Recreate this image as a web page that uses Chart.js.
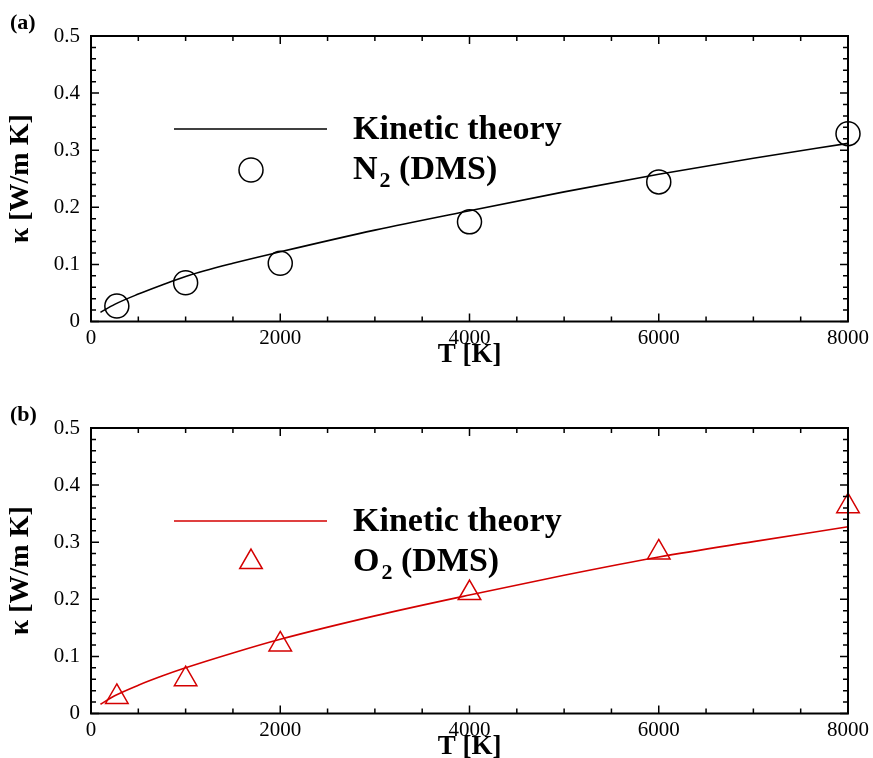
<!DOCTYPE html>
<html>
<head>
<meta charset="utf-8">
<script src="https://cdn.jsdelivr.net/npm/chart.js@4.4.1/dist/chart.umd.min.js"></script>
<style>
  body { margin: 0; width: 873px; height: 758px; overflow: hidden; background: #fff; position: relative; }
  canvas { position: absolute; left: 0; }
  #panelA { top: 0; }
  #panelB { top: 392px; }
</style>
</head>
<body>
<canvas id="panelA" width="873" height="392"></canvas>
<canvas id="panelB" width="873" height="392"></canvas>
<script>
// kinetic theory curves
const tLine = [100, 250, 500, 750, 1000, 1500, 2000, 3000, 4000, 5000, 6000, 7000, 8000];
const kN2Line = [0.016, 0.030, 0.048, 0.064, 0.079, 0.102, 0.122, 0.160, 0.194, 0.227, 0.258, 0.286, 0.312];
const kO2Line = [0.0163, 0.031, 0.0495, 0.0655, 0.080, 0.106, 0.130, 0.171, 0.2075, 0.242, 0.274, 0.301, 0.327];

// DMS points
const tDms = [273, 1000, 2000, 4000, 6000, 8000];
const kN2Dms = [0.027, 0.068, 0.102, 0.1745, 0.2445, 0.329];
const kO2Dms = [0.029, 0.060, 0.121, 0.211, 0.282, 0.363];

const xTickLabels = ['0', '2000', '4000', '6000', '8000'];
const yTickLabels = ['0', '0.1', '0.2', '0.3', '0.4', '0.5'];

const SERIF = "'Liberation Serif', 'Times New Roman', serif";
const RED = '#d40000';

function pts(xs, ys) {
    return xs.map((x, i) => ({ x: x, y: ys[i] }));
}

function drawMarker(ctx, style, x, y, r) {
    ctx.beginPath();
    if (style === 'triangle') {
        let rad = 0;
        ctx.moveTo(x + Math.sin(rad) * r, y - Math.cos(rad) * r);
        rad += 2 * Math.PI / 3;
        ctx.lineTo(x + Math.sin(rad) * r, y - Math.cos(rad) * r);
        rad += 2 * Math.PI / 3;
        ctx.lineTo(x + Math.sin(rad) * r, y - Math.cos(rad) * r);
        ctx.closePath();
    } else {
        ctx.arc(x, y, r, 0, Math.PI * 2);
    }
    ctx.stroke();
}

function makePanel(canvasId, panelLabel, color, lineK, dmsK, style, radius, species) {
    const frame = {
        id: 'frame',
        afterDraw(chart) {
            const ctx = chart.ctx, a = chart.chartArea;
            const xs = chart.scales.x, ys = chart.scales.y;
            ctx.save();
            ctx.strokeStyle = '#000';
            ctx.lineWidth = 2;
            ctx.strokeRect(a.left, a.top, a.right - a.left, a.bottom - a.top);

            // inward ticks on all four sides, minor ones shorter
            ctx.lineWidth = 1.5;
            ctx.beginPath();
            for (let v = 0; v <= 8000; v += 500) {
                const px = xs.getPixelForValue(v);
                const len = v % 2000 === 0 ? 8 : 5;
                ctx.moveTo(px, a.bottom); ctx.lineTo(px, a.bottom - len);
                ctx.moveTo(px, a.top); ctx.lineTo(px, a.top + len);
            }
            for (let i = 0; i <= 25; i++) {
                const py = ys.getPixelForValue(i * 0.02);
                const len = i % 5 === 0 ? 8 : 5;
                ctx.moveTo(a.left, py); ctx.lineTo(a.left + len, py);
                ctx.moveTo(a.right, py); ctx.lineTo(a.right - len, py);
            }
            ctx.stroke();

            // legend inside the plot
            const lx = a.left, ly = a.top;
            ctx.strokeStyle = color;
            ctx.lineWidth = 1.5;
            ctx.beginPath();
            ctx.moveTo(lx + 83, ly + 93);
            ctx.lineTo(lx + 236, ly + 93);
            ctx.stroke();
            drawMarker(ctx, style, lx + 160, ly + 134, radius);

            ctx.fillStyle = '#000';
            ctx.textBaseline = 'alphabetic';
            ctx.textAlign = 'left';
            ctx.font = 'bold 34px ' + SERIF;
            ctx.fillText('Kinetic theory', lx + 262, ly + 103);
            let tx = lx + 262;
            const by = ly + 143;
            ctx.fillText(species, tx, by);
            tx += ctx.measureText(species).width + 2;
            ctx.font = 'bold 22px ' + SERIF;
            ctx.fillText('2', tx, by + 8);
            tx += ctx.measureText('2').width;
            ctx.font = 'bold 34px ' + SERIF;
            ctx.fillText(' (DMS)', tx, by);

            // panel label
            ctx.font = 'bold 22px ' + SERIF;
            ctx.fillText(panelLabel, 10, 29);
            ctx.restore();
        }
    };

    return new Chart(document.getElementById(canvasId), {
        type: 'scatter',
        data: {
            datasets: [
                {
                    label: 'Kinetic theory',
                    data: pts(tLine, lineK),
                    showLine: true,
                    borderColor: color,
                    borderWidth: 1.6,
                    pointRadius: 0,
                    cubicInterpolationMode: 'monotone',
                    clip: false
                },
                {
                    label: species + '2 (DMS)',
                    data: pts(tDms, dmsK),
                    showLine: false,
                    pointStyle: style,
                    pointRadius: radius,
                    pointBorderWidth: 1.5,
                    borderColor: color,
                    backgroundColor: 'rgba(0,0,0,0)',
                    clip: false
                }
            ]
        },
        options: {
            responsive: false,
            animation: false,
            layout: { padding: { top: 36, right: 23, bottom: 18, left: 0 } },
            plugins: { legend: { display: false }, tooltip: { enabled: false } },
            scales: {
                x: {
                    type: 'linear',
                    min: 0,
                    max: 8000,
                    grid: { display: false, drawTicks: false },
                    border: { display: false },
                    ticks: {
                        stepSize: 2000,
                        padding: 4,
                        maxRotation: 0,
                        autoSkip: false,
                        color: '#000',
                        font: { family: SERIF, size: 21 },
                        callback: (v) => xTickLabels[v / 2000]
                    },
                    title: {
                        display: true,
                        text: 'T [K]',
                        color: '#000',
                        padding: { top: 0, bottom: 3 },
                        font: { family: SERIF, size: 27, weight: 'bold' }
                    },
                    afterFit: (s) => { s.height = 52.5; }
                },
                y: {
                    min: 0,
                    max: 0.5,
                    grid: { display: false, drawTicks: false },
                    border: { display: false },
                    ticks: {
                        stepSize: 0.1,
                        padding: 11,
                        color: '#000',
                        font: { family: SERIF, size: 21 },
                        callback: (v) => yTickLabels[Math.round(v * 10)]
                    },
                    title: {
                        display: true,
                        text: 'κ [W/m K]',
                        color: '#000',
                        padding: { top: 4, bottom: 0 },
                        font: { family: SERIF, size: 28, weight: 'bold' }
                    },
                    afterFit: (s) => { s.width = 91; }
                }
            }
        },
        plugins: [frame]
    });
}

makePanel('panelA', '(a)', '#000', kN2Line, kN2Dms, 'circle', 12, 'N');
makePanel('panelB', '(b)', RED, kO2Line, kO2Dms, 'triangle', 13, 'O');
</script>
</body>
</html>
